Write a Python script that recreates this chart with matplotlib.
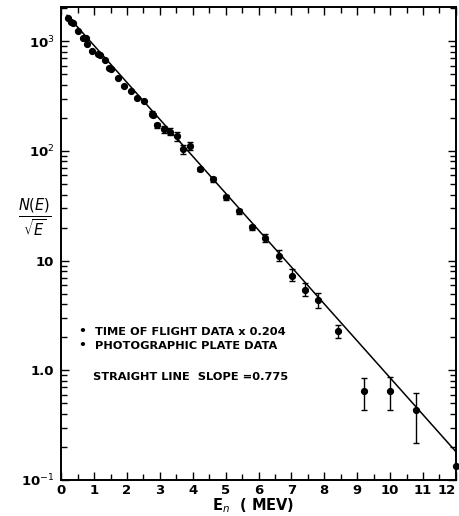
import numpy as np
import matplotlib
matplotlib.use("Agg")
import matplotlib.pyplot as plt
from matplotlib.ticker import FixedLocator, FixedFormatter, LogLocator, MultipleLocator, NullFormatter

# Time-of-flight data (scaled x 0.204)
tof_E = [0.20, 0.29, 0.35, 0.52, 0.67, 0.76, 0.80, 0.93, 1.13, 1.18, 1.33, 1.46, 1.52,
         1.72, 1.91, 2.11, 2.31, 2.52, 2.75, 2.78, 2.90, 3.12, 3.32, 3.51, 3.71, 3.91]
tof_N = [1644, 1500, 1460, 1227, 1065, 1065, 939, 815, 761, 745, 670, 575, 555,
         459, 391, 352, 301, 285, 219, 212, 172, 157, 150, 136, 103, 111]
tof_err = [0, 0, 0, 0, 0, 0, 0, 0, 0, 0, 0, 0, 0,
           0, 0, 0, 0, 0, 10, 10, 9, 10, 11, 12, 9, 9]

# Photographic plate data
pl_E = [4.21, 4.61, 5.01, 5.41, 5.81, 6.21, 6.62, 7.02, 7.42, 7.81, 8.41, 9.21, 10.0, 10.78, 11.99]
pl_N = [68, 55, 38, 28.2, 20.1, 16.1, 10.9, 7.3, 5.4, 4.4, 2.26, 0.64, 0.65, 0.435, 0.135]
pl_err_lo = [3, 2.5, 2, 1.5, 1.2, 1.2, 1.1, 0.8, 0.7, 0.7, 0.29, 0.21, 0.22, 0.22, 0]
pl_err_hi = [3, 2.5, 2, 1.5, 1.2, 1.2, 1.5, 1.0, 0.8, 0.7, 0.34, 0.21, 0.21, 0.19, 0]

# Straight line fit
line_A = 1980.0
line_slope = 0.775
line_E = [0.18, 12.0]

ytick_vals = [0.1, 1.0, 10, 100, 1000]
ytick_labels = ['10$^{-1}$', '1.0', '10', '10$^2$', '10$^3$']
xtick_vals = list(range(0, 13))

plt.rcParams['font.family'] = ['DejaVu Sans']
fig = plt.figure(figsize=(4.6, 5.16), dpi=100)
ax = fig.add_axes([0.133, 0.070, 0.858, 0.916])

ax.set_yscale('log')
ax.set_xlim(0, 12)
ax.set_ylim(0.1, 2040)

le = np.linspace(line_E[0], line_E[1], 50)
ax.plot(le, line_A * np.exp(-line_slope * le), color='black', lw=1.1, zorder=2)

ax.errorbar(tof_E, tof_N, yerr=tof_err, fmt='o', color='black', ms=4.2,
            elinewidth=1.0, capsize=2, capthick=1.0, zorder=3)
ax.errorbar(pl_E, pl_N, yerr=[pl_err_lo, pl_err_hi], fmt='o', color='black', ms=4.2,
            elinewidth=1.0, capsize=2, capthick=1.0, zorder=3, clip_on=False)

ax.xaxis.set_major_locator(FixedLocator(xtick_vals))
ax.xaxis.set_minor_locator(MultipleLocator(0.5))
ax.yaxis.set_major_locator(FixedLocator(ytick_vals))
ax.yaxis.set_major_formatter(FixedFormatter(ytick_labels))
ax.yaxis.set_minor_locator(LogLocator(base=10, subs=np.arange(2, 10)))
ax.yaxis.set_minor_formatter(NullFormatter())

ax.tick_params(which='both', direction='in', top=True, right=True, width=1.0)
ax.tick_params(which='major', length=6, labelsize=9.5)
ax.tick_params(axis='y', which='major', pad=5)
ax.tick_params(axis='x', which='major', pad=3)
ax.tick_params(which='minor', length=4)
for lab in ax.get_xticklabels() + ax.get_yticklabels():
    lab.set_fontweight('bold')
xl = ax.get_xticklabels()
xl[-1].set_horizontalalignment('right')
for s in ax.spines.values():
    s.set_linewidth(1.4)

fig.text(0.55, 1 - 506 / 516, 'E$_n$  ( MEV)', fontsize=10.5, fontweight='bold',
         ha='center', va='center')
fig.text(0.075, 0.578, r'$\frac{N(E)}{\sqrt{E}}$', fontsize=15, ha='center', va='center')

fs = 8.2
fig.text(81.7 / 460, 1 - 332 / 516, '•', fontsize=9, ha='center', va='center', fontweight='bold')
fig.text(95 / 460, 1 - 332 / 516, 'TIME OF FLIGHT DATA x 0.204', fontsize=fs, va='center', fontweight='bold')
fig.text(81.7 / 460, 1 - 346 / 516, '•', fontsize=9, ha='center', va='center', fontweight='bold')
fig.text(95 / 460, 1 - 346 / 516, 'PHOTOGRAPHIC PLATE DATA', fontsize=fs, va='center', fontweight='bold')
fig.text(93 / 460, 1 - 377 / 516, 'STRAIGHT LINE  SLOPE =0.775', fontsize=fs, va='center', fontweight='bold')

fig.savefig('out.png', dpi=100)
